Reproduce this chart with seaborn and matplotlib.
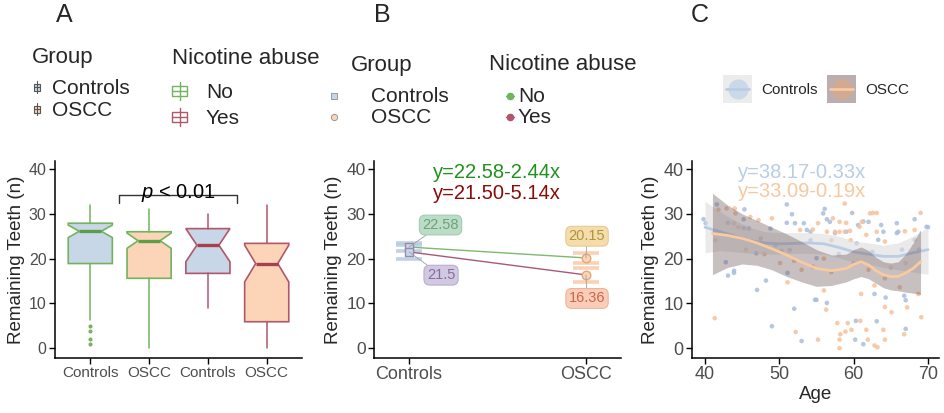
import pandas as pd
import seaborn as sns
import matplotlib.pyplot as plt
from matplotlib.patches import Rectangle
from matplotlib.lines import Line2D

# ==========================================
# data
# ==========================================
# A: notched boxplots, Group x Nicotine abuse
box_group = ['Controls', 'OSCC', 'Controls', 'OSCC']
box_nicotine = ['No', 'No', 'Yes', 'Yes']
box_q1 = [18.9, 15.6, 16.7, 5.9]
box_med = [26.1, 24.0, 23.0, 18.9]
box_q3 = [27.9, 26.0, 26.7, 23.4]
box_cilo = [24.7, 22.3, 19.3, 14.8]
box_cihi = [27.5, 25.7, 26.7, 23.0]
box_whislo = [6.3, 0.0, 9.0, 0.0]
box_whishi = [32.0, 31.1, 29.9, 32.0]
box_fliers = [[4.9, 3.9, 2.1, 1.0], [], [], []]

# B: group means with error bars
b_group = ['Controls', 'OSCC', 'Controls', 'OSCC']
b_nicotine = ['No', 'No', 'Yes', 'Yes']
b_mean = [22.58, 20.15, 21.50, 16.36]
b_lo = [21.8, 19.1, 19.9, 14.8]
b_hi = [23.4, 21.3, 23.1, 17.8]
b_labels = ['22.58', '20.15', '21.5', '16.36']

# C: age vs remaining teeth
ctrl_age = [39.8, 40.1, 41.6, 41.3, 42.8, 43.1, 43.1, 43.9, 43.9, 45.2, 45.3, 45.2,
            45.9, 46.9, 47.0, 48.2, 48.8, 50.3, 51.0, 51.0, 51.1, 51.4, 51.7, 52.0,
            52.1, 53.0, 53.3, 53.7, 54.2, 54.2, 54.8, 55.0, 55.0, 55.9, 56.1, 56.4,
            56.4, 56.8, 57.5, 49.0, 59.0, 59.8, 60.3, 60.4, 60.2, 60.6, 61.3, 61.3,
            62.0, 62.8, 63.1, 63.3, 63.7, 64.0, 64.3, 65.8, 65.8, 66.0, 66.8, 67.0,
            67.0, 68.2, 68.2, 69.8, 70.0, 58.0, 62.5, 66.5, 68.8, 49.5, 47.5]
ctrl_teeth = [28.8, 27.9, 32.1, 26.0, 19.2, 28.0, 16.2, 17.3, 16.8, 28.8, 31.0, 26.8,
              26.7, 21.2, 13.0, 15.1, 26.7, 21.7, 32.1, 28.0, 16.8, 21.9, 29.9, 8.8,
              27.9, 1.6, 27.9, 26.4, 26.0, 24.1, 10.8, 20.1, 10.8, 30.1, 31.1, 28.8,
              10.1, 28.2, 25.7, 4.9, 26.0, 30.2, 6.1, 23.4, 1.9, 27.5, 0.9, 28.3,
              28.2, 12.1, 6.0, 24.2, 27.5, 26.0, 11.3, 27.9, 25.7, 26.0, 11.7, 10.7,
              4.3, 28.8, 24.2, 27.1, 27.0, 21.0, 21.5, 22.0, 22.0, 23.0, 24.5]
oscc_age = [41.4, 41.3, 41.8, 42.9, 43.9, 44.0, 44.1, 46.1, 47.2, 49.0, 50.1, 51.1,
            52.2, 52.8, 54.5, 54.5, 55.2, 55.2, 56.0, 56.3, 56.4, 57.0, 57.2, 57.5,
            57.8, 58.1, 58.1, 58.1, 58.1, 58.2, 58.8, 58.8, 58.9, 59.0, 59.2, 59.5,
            59.6, 59.7, 60.8, 60.9, 61.0, 61.1, 61.7, 61.7, 61.9, 62.2, 62.6, 62.8,
            62.8, 63.1, 63.1, 63.2, 64.0, 64.2, 64.2, 64.2, 64.2, 65.1, 66.2, 66.8,
            66.9, 67.2, 68.2, 68.7, 69.0, 69.1, 45.5, 48.0, 53.0, 56.0, 60.0, 62.0,
            65.0, 67.0, 44.5, 52.0, 57.0]
oscc_teeth = [24.1, 6.7, 30.9, 31.2, 27.9, 31.2, 30.1, 29.3, 28.6, 29.0, 19.0, 14.7,
              3.6, 26.4, 26.5, 18.2, 27.9, 1.9, 12.9, 8.6, 26.0, 24.1, 29.0, 26.0,
              5.6, 26.0, 28.2, 1.9, 0.0, 3.1, 32.3, 26.0, 3.7, 28.0, 5.6, 26.2,
              24.1, 4.1, 27.1, 6.1, 12.1, 28.2, 25.3, 4.1, 1.9, 30.1, 30.2, 14.0,
              0.6, 30.2, 26.0, 0.2, 4.1, 23.8, 15.6, 9.2, 1.9, 8.0, 13.6, 3.1,
              26.1, 9.1, 26.4, 12.1, 30.2, 6.9, 22.0, 21.0, 17.5, 20.0, 19.0, 17.5,
              18.0, 19.0, 27.0, 19.5, 17.0]

# C: loess curves with confidence bands
ctrl_fit_age = [40, 42, 44, 46, 48, 50, 52, 54, 56, 58, 60, 62, 64, 66, 68, 70]
ctrl_fit = [27.0, 26.0, 25.0, 24.0, 23.5, 23.3, 23.4, 23.5, 23.3, 22.5, 21.5, 21.0,
            20.5, 20.5, 21.3, 22.0]
ctrl_fit_lo = [21.3, 21.8, 21.5, 21.2, 21.0, 21.0, 21.2, 21.2, 21.0, 20.2, 19.2, 18.8,
               18.0, 17.5, 17.0, 16.5]
ctrl_fit_hi = [32.8, 30.5, 28.5, 27.0, 26.0, 25.8, 25.8, 25.8, 25.6, 25.0, 24.0, 23.5,
               23.0, 23.5, 25.0, 27.0]
oscc_fit_age = [41, 43, 45, 47, 49, 51, 53, 55, 57, 59, 60, 61, 62, 63, 64, 65, 66, 67, 68, 69]
oscc_fit = [25.6, 25.2, 24.5, 23.5, 22.2, 20.8, 19.2, 17.8, 17.3, 17.8, 18.7, 19.3,
            18.6, 17.3, 16.4, 16.0, 16.0, 16.8, 17.8, 19.3]
oscc_fit_lo = [16.4, 18.0, 18.8, 18.5, 17.5, 16.0, 14.8, 13.8, 14.0, 14.8, 15.5, 16.0,
               15.5, 14.5, 13.5, 13.0, 12.8, 12.5, 12.3, 12.0]
oscc_fit_hi = [34.6, 32.0, 30.0, 28.5, 27.0, 25.5, 23.8, 22.0, 20.8, 21.0, 22.0, 22.6,
               21.8, 20.3, 19.3, 19.0, 19.3, 21.0, 23.5, 26.5]

y_ticks = [0, 10, 20, 30, 40]

# ==========================================
# style
# ==========================================
sns.set_theme(style="ticks")
plt.rcParams['font.family'] = ['Liberation Sans', 'DejaVu Sans']
plt.rcParams['mathtext.fontset'] = 'custom'
plt.rcParams['mathtext.it'] = 'Liberation Sans:italic'
plt.rcParams['mathtext.rm'] = 'Liberation Sans'

fill_col = {'Controls': '#c8d7e8', 'OSCC': '#fcd5b8'}
edge_col = {'No': '#72b35e', 'Yes': '#b1566b'}
med_col = {'No': '#5c9e48', 'Yes': '#a5404f'}
tick_gray = '#4d4d4d'

W, H = 944, 413
fig = plt.figure(figsize=(W / 100, H / 100), dpi=100)


def fx(x):
    return x / W


def fy(y):
    return 1 - y / H


def style_axis(ax, xfs, yfs):
    sns.despine(ax=ax)
    for s in ['left', 'bottom']:
        ax.spines[s].set_color('black')
        ax.spines[s].set_linewidth(1.1)
    ax.tick_params(axis='x', length=4, width=1, color='black', labelcolor=tick_gray,
                   labelsize=xfs, pad=2)
    ax.tick_params(axis='y', length=4, width=1, color='black', labelcolor=tick_gray,
                   labelsize=yfs, pad=2)
    ax.set_ylim(-2.2, 41.8)
    ax.set_yticks(y_ticks)
    ax.set_ylabel('Remaining Teeth (n)', fontsize=13.5, labelpad=3)
    ax.grid(False)


axA = fig.add_axes([fx(55), fy(358), 247 / W, 197 / H])
axB = fig.add_axes([fx(374), fy(358), 247 / W, 197 / H])
axC = fig.add_axes([fx(692), fy(358), 247 / W, 197 / H])

# ==========================================
# A
# ==========================================
stats = []
for i in range(4):
    stats.append(dict(med=box_med[i], q1=box_q1[i], q3=box_q3[i],
                      cilo=box_cilo[i], cihi=box_cihi[i],
                      whislo=box_whislo[i], whishi=box_whishi[i],
                      fliers=box_fliers[i]))
art = axA.bxp(stats, positions=[1, 2, 3, 4], widths=0.75, patch_artist=True,
              shownotches=True, showcaps=False, manage_ticks=False,
              flierprops=dict(marker='o', markersize=1.9, linestyle='none'))
for i, box in enumerate(art['boxes']):
    ec = edge_col[box_nicotine[i]]
    box.set(facecolor=fill_col[box_group[i]], edgecolor=ec, linewidth=1.2)
    art['medians'][i].set(color=med_col[box_nicotine[i]], linewidth=2.4, solid_capstyle='butt')
    for w in art['whiskers'][2 * i:2 * i + 2]:
        w.set(color=ec, linewidth=1.1)
    art['fliers'][i].set(markerfacecolor=ec, markeredgecolor=ec)

axA.set_xlim(0.4, 4.6)
axA.set_xticks([1, 2, 3, 4])
axA.set_xticklabels(box_group)
style_axis(axA, 11, 11.5)
# significance bracket
axA.plot([1.485, 1.485, 3.5, 3.5], [32.4, 34.2, 34.2, 32.4], color='#333333', lw=1)
axA.text(2.5, 33.6, r'$p$ < 0.01', ha='center', va='baseline', fontsize=14.5, color='black')

# ==========================================
# B
# ==========================================
dfB = pd.DataFrame({'group': b_group, 'nicotine': b_nicotine, 'mean': b_mean,
                    'lo': b_lo, 'hi': b_hi, 'label': b_labels})
dfB['pos'] = dfB['group'].map({'Controls': 1, 'OSCC': 2})
cap_col = {'Controls': '#b7cbe2', 'OSCC': '#f8caa7'}
for _, r in dfB.iterrows():
    axB.hlines([r['lo'], r['hi']], r['pos'] - 0.075, r['pos'] + 0.075,
               colors=cap_col[r['group']], lw=2.6, alpha=0.85, zorder=1)
sns.lineplot(data=dfB, x='pos', y='mean', hue='nicotine',
             palette={'No': '#7dba6c', 'Yes': '#a8587a'}, lw=1, legend=False,
             ax=axB, zorder=2)
pt_edge = {'Controls': '#9a8aac', 'OSCC': '#e4a679'}
for g, mk in [('Controls', 's'), ('OSCC', 'o')]:
    sns.scatterplot(data=dfB[dfB['group'] == g], x='pos', y='mean', color=fill_col[g],
                    marker=mk, s=38, edgecolor=pt_edge[g], linewidth=1, legend=False,
                    ax=axB, zorder=3)

lab_style = {
    ('Controls', 'No'): ((1.178, 27.5), '#6aa37a', '#b5d9c1', '#9fc9ad'),
    ('Controls', 'Yes'): ((1.181, 16.3), '#8a6a9e', '#cbc4de', '#b3a9cf'),
    ('OSCC', 'No'): ((2.006, 25.0), '#ad953e', '#f4daa2', '#e6c68a'),
    ('OSCC', 'Yes'): ((2.006, 11.1), '#c9674b', '#f9c8b1', '#eeae92'),
}
for _, r in dfB.iterrows():
    (tx, ty), tc, fc, ec = lab_style[(r['group'], r['nicotine'])]
    axB.annotate(r['label'], xy=(r['pos'], r['mean']), xytext=(tx, ty),
                 ha='center', va='center', fontsize=10.5, color=tc, zorder=4,
                 bbox=dict(boxstyle='round,pad=0.2,rounding_size=0.4', fc=fc, ec=ec, lw=0.8, alpha=0.9),
                 arrowprops=dict(arrowstyle='-', color='#a0a0a0', lw=0.6, shrinkA=0, shrinkB=0))
axB.text(1.498, 39.3, 'y=22.58-2.44x', ha='center', va='center', fontsize=14.5, color='#22911f')
axB.text(1.498, 34.6, 'y=21.50-5.14x', ha='center', va='center', fontsize=14.5, color='#8b0a0a')
axB.set_xlim(0.802, 2.198)
axB.set_xticks([1, 2])
axB.set_xticklabels(['Controls', 'OSCC'])
axB.set_xlabel('')
style_axis(axB, 13, 12.5)

# ==========================================
# C
# ==========================================
dfC = pd.concat([
    pd.DataFrame({'age': ctrl_age, 'teeth': ctrl_teeth, 'group': 'Controls'}),
    pd.DataFrame({'age': oscc_age, 'teeth': oscc_teeth, 'group': 'OSCC'}),
])
sns.scatterplot(data=dfC, x='age', y='teeth', hue='group',
                palette={'Controls': '#a9bedb', 'OSCC': '#f5c29c'}, s=11, linewidth=0,
                alpha=0.85, legend=False, ax=axC, zorder=1)
axC.fill_between(ctrl_fit_age, ctrl_fit_lo, ctrl_fit_hi, color='#dcdcdc', alpha=0.6,
                 lw=0, zorder=2)
sns.lineplot(x=ctrl_fit_age, y=ctrl_fit, color='#b9cde5', lw=2, ax=axC, zorder=3)
axC.fill_between(oscc_fit_age, oscc_fit_lo, oscc_fit_hi, color='#6f575c', alpha=0.38,
                 lw=0, zorder=4)
sns.lineplot(x=oscc_fit_age, y=oscc_fit, color='#f9c99f', lw=2, ax=axC, zorder=5)
axC.text(53.1, 39.3, 'y=38.17-0.33x', ha='center', va='center', fontsize=14.5, color='#b9cde5')
axC.text(53.1, 34.9, 'y=33.09-0.19x', ha='center', va='center', fontsize=14.5, color='#f8c8a0')
axC.set_xlim(38.25, 71.48)
axC.set_xticks([40, 50, 60, 70])
style_axis(axC, 13, 13)
axC.set_xlabel('Age', fontsize=13.5, labelpad=2)

# ==========================================
# panel letters and legends
# ==========================================
for letter, x in [('A', 64), ('B', 382), ('C', 700)]:
    fig.text(fx(x), fy(15), letter, ha='center', va='center', fontsize=18)


def add_line(xs, ys, **kw):
    fig.add_artist(Line2D([fx(v) for v in xs], [fy(v) for v in ys],
                          transform=fig.transFigure, **kw))


def add_rect(x0, y0, w, h, **kw):
    fig.add_artist(Rectangle((fx(x0), fy(y0 + h)), w / W, h / H,
                             transform=fig.transFigure, **kw))


def legend_text(x, y, s, fs):
    fig.text(fx(x), fy(y), s, ha='left', va='center', fontsize=fs)


# legend A
legend_text(32, 58, 'Group', 16)
legend_text(172, 58, 'Nicotine abuse', 16)
for g, y in [('Controls', 87), ('OSCC', 109)]:
    add_line([37, 37], [y - 6, y + 6], color='#555555', lw=0.8)
    add_rect(34, y - 3.5, 6, 7, facecolor=fill_col[g], edgecolor='#555555', lw=0.8)
    add_line([34, 40], [y, y], color='#555555', lw=0.8)
    legend_text(52, y + 1, g, 15)
for n, y in [('No', 91), ('Yes', 117)]:
    add_line([179.5, 179.5], [y - 9, y + 9], color=edge_col[n], lw=1)
    add_rect(172, y - 5, 15, 10, facecolor='white', edgecolor=edge_col[n], lw=1)
    add_line([172, 187], [y, y], color=edge_col[n], lw=1)
    legend_text(206, y + 1, n, 15)

# legend B
legend_text(351, 65, 'Group', 16)
legend_text(489, 65, 'Nicotine abuse', 16)
for g, mk, y in [('Controls', 's', 96), ('OSCC', 'o', 117)]:
    add_line([334], [y], marker=mk, markersize=4.5, markerfacecolor=fill_col[g],
             markeredgecolor='#8c8c8c', markeredgewidth=0.6, linestyle='none')
    legend_text(371, y, g, 15)
for n, y in [('No', 96), ('Yes', 117)]:
    add_line([506, 514], [y, y], color=edge_col[n], lw=1)
    add_line([510], [y], marker='o', markersize=4.5, markerfacecolor=edge_col[n],
             markeredgecolor=edge_col[n], linestyle='none')
    legend_text(518, y, n, 15)

# legend C
for g, x0, bg, dot, ln in [('Controls', 723, '#ececec', '#c3d4e8', '#b9cde5'),
                           ('OSCC', 827, '#bcaeae', '#d8a98b', '#f9c99f')]:
    add_rect(x0, 75, 29, 28, facecolor=bg, edgecolor='none')
    add_line([x0 + 14.5], [89], marker='o', markersize=14.5, markerfacecolor=dot,
             markeredgecolor='none', alpha=0.8, linestyle='none')
    add_line([x0 + 3, x0 + 26], [89, 89], color=ln, lw=2)
    legend_text(x0 + 38, 90, g, 11)

fig.savefig('out.png', dpi=100)
